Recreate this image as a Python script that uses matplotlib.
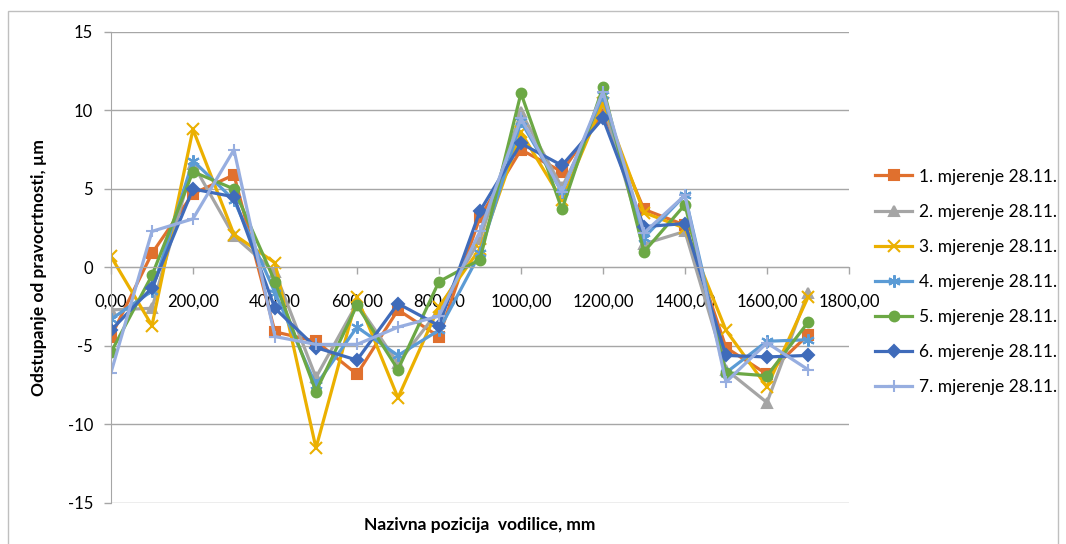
#!/usr/bin/env python3
"""
Odstupanje od pravocrtnosti vodilice - 7 mjerenja
"""
import matplotlib
matplotlib.use('Agg')
import matplotlib.pyplot as plt
from matplotlib.patches import Rectangle

plt.rcParams['font.family'] = ['Lato', 'DejaVu Sans']
plt.rcParams['axes.unicode_minus'] = False

# Nazivne pozicije, mm
positions = [0, 100, 200, 300, 400, 500, 600, 700, 800, 900,
             1000, 1100, 1200, 1300, 1400, 1500, 1600, 1700]

labels = [f'{i}. mjerenje 28.11.' for i in range(1, 8)]

m1 = [-4.4, 0.9, 4.7, 5.9, -4.1, -4.7, -6.8, -2.7, -4.4, 3.2, 7.5, 6.1, 9.9, 3.7, 2.7, -5.1, -6.8, -4.3]
m2 = [-2.7, -2.6, 6.6, 2.0, -0.3, -7.0, -2.3, -6.1, -2.7, 1.8, 9.9, 5.1, 10.5, 1.5, 2.3, -6.5, -8.6, -1.6]
m3 = [0.7, -3.7, 8.8, 2.1, 0.3, -11.5, -1.9, -8.3, -2.5, 1.2, 8.6, 4.3, 10.5, 3.5, 2.5, -4.0, -7.6, -1.9]
m4 = [-3.3, -1.5, 6.8, 4.3, -1.6, -7.5, -3.8, -5.6, -4.0, 0.9, 9.3, 4.8, 11.0, 1.9, 4.6, -6.7, -4.7, -4.6]
m5 = [-5.4, -0.5, 6.1, 5.0, -0.9, -7.9, -2.4, -6.5, -0.9, 0.5, 11.1, 3.7, 11.5, 1.0, 4.0, -6.7, -6.9, -3.5]
m6 = [-4.0, -1.3, 5.0, 4.5, -2.6, -5.1, -5.9, -2.3, -3.7, 3.6, 7.9, 6.5, 9.5, 2.6, 2.8, -5.6, -5.7, -5.6]
m7 = [-6.7, 2.3, 3.1, 7.5, -4.4, -4.9, -4.9, -3.8, -3.1, 2.3, 9.5, 4.8, 11.2, 2.2, 4.6, -7.3, -4.8, -6.5]

series = [m1, m2, m3, m4, m5, m6, m7]
colors = ['#E0702E', '#A5A5A5', '#EBB000', '#5B9BD5', '#6CA845', '#3F6BBA', '#97AEE0']
markers = ['s', '^', 'x', (6, 2, 0), 'o', 'D', '+']
msizes = [6.5, 7, 8, 9, 7, 6, 9]

fig = plt.figure(figsize=(10.66, 5.44), dpi=100)
ax = fig.add_axes([0.1041, 0.0754, 0.6923, 0.8658])

for y, lab, c, mk, ms in zip(series, labels, colors, markers, msizes):
    ax.plot(positions, y, color=c, linewidth=2.3, marker=mk, markersize=ms,
            markerfacecolor=c, markeredgecolor=c, markeredgewidth=1.5, label=lab)

ax.set_xlim(0, 1800)
ax.set_ylim(-15, 15)
ax.set_xticks(range(0, 1801, 200))
ax.set_xticklabels([f'{v},00' for v in range(0, 1801, 200)])
ax.set_yticks(range(-15, 16, 5))

ax.yaxis.grid(True, color='#A6A6A6', linewidth=1.0)
ax.set_axisbelow(True)
for s in ['top', 'right']:
    ax.spines[s].set_visible(False)
ax.spines['bottom'].set_position(('data', 0))
ax.spines['bottom'].set_color('#A6A6A6')
ax.spines['left'].set_color('#A6A6A6')
ax.tick_params(axis='both', colors='#A6A6A6', labelcolor='black', labelsize=12,
               length=5, width=1.0)
ax.tick_params(axis='x', pad=14)
ax.tick_params(axis='y', pad=8)

ax.set_xlabel('Nazivna pozicija  vodilice, mm', fontsize=12.5, fontweight='bold')
ax.xaxis.set_label_coords(0.50, -0.03)
ax.set_ylabel('Odstupanje od pravocrtnosti, µm', fontsize=12.5, fontweight='bold')
ax.yaxis.set_label_coords(-0.087, 0.5)

fig.legend(loc='center left', bbox_to_anchor=(0.818, 0.482), frameon=False,
           fontsize=12.5, handlelength=2.1, labelspacing=1.1, handletextpad=0.4,
           borderaxespad=0.0, borderpad=0.2)

# okvir grafikona
fig.patches.append(Rectangle((8 / 1066, -0.02), 1050 / 1066, 1.0 - 11 / 544 + 0.02,
                             transform=fig.transFigure, fill=False,
                             edgecolor='#BFBFBF', linewidth=1.0))

plt.savefig('out.png', dpi=100)
